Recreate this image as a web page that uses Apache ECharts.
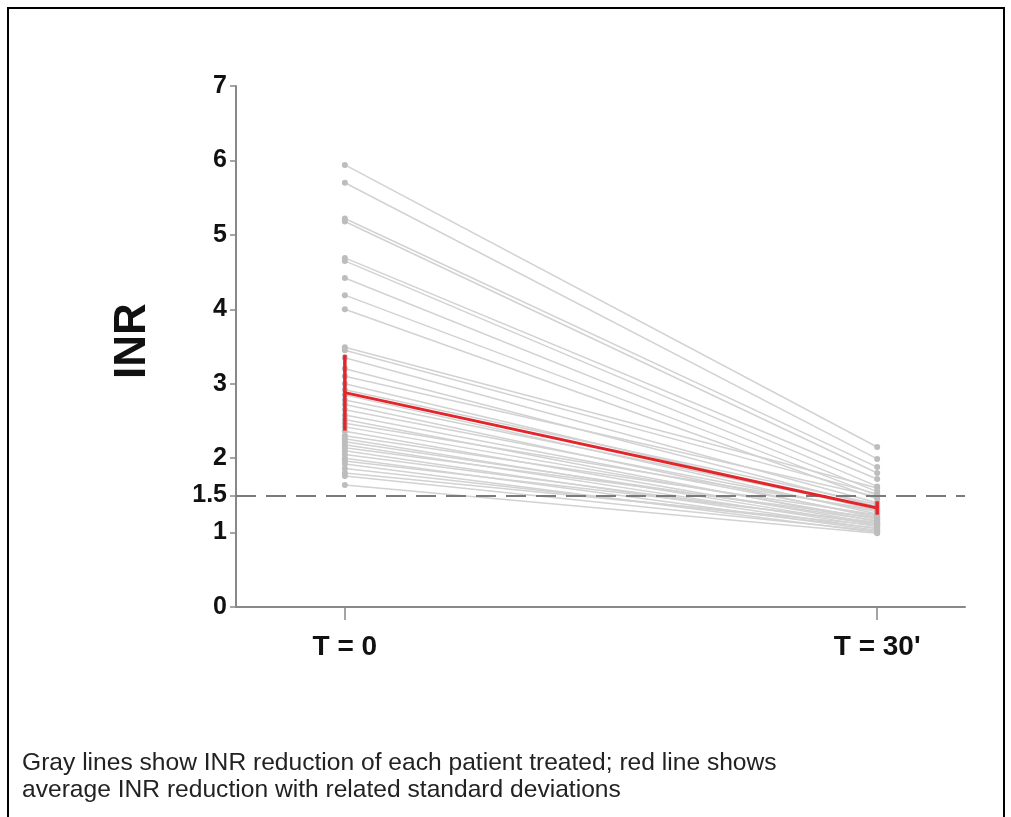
<!DOCTYPE html>
<html>
<head>
<meta charset="utf-8">
<script src="https://cdn.jsdelivr.net/npm/echarts@6/dist/echarts.min.js"></script>
<style>
html,body{margin:0;padding:0;background:#fff;}
#chart{width:1011px;height:817px;}
</style>
</head>
<body>
<div id="chart"></div>
<script>
// ---- data ----
var categories = ['T = 0', "T = 30'"];
var yTickValues = [0, 1, 1.5, 2, 3, 4, 5, 6, 7];
var inrT0 = [5.94, 5.70, 5.22, 5.18, 4.69, 4.65, 4.42, 4.19, 4.00, 3.49,
             3.45, 3.35, 3.20, 3.10, 3.00, 2.92, 2.85, 2.78, 2.72, 2.65,
             2.58, 2.52, 2.47, 2.42, 2.36, 2.30, 2.26, 2.22, 2.18, 2.14,
             2.10, 2.05, 2.00, 1.96, 1.92, 1.86, 1.80, 1.76, 1.64];
var inrT30 = [2.15, 1.99, 1.88, 1.80, 1.72, 1.62, 1.55, 1.50, 1.45, 1.60,
              1.52, 1.40, 1.35, 1.48, 1.30, 1.38, 1.25, 1.33, 1.20, 1.28,
              1.22, 1.15, 1.30, 1.18, 1.12, 1.24, 1.10, 1.16, 1.08, 1.20,
              1.05, 1.12, 1.03, 1.14, 1.00, 1.06, 1.10, 1.02, 0.99];
var meanINR = [2.88, 1.33];
var sdINR = [0.51, 0.09];
var thresholdINR = 1.5;
var captionLines = [
  'Gray lines show INR reduction of each patient treated; red line shows',
  'average INR reduction with related standard deviations'
];

// ---- chart ----
var chart = echarts.init(document.getElementById('chart'));
var FONT = '"Liberation Sans", Arial, sans-serif';

var series = [];
for (var i = 0; i < inrT0.length; i++) {
  series.push({
    type: 'line',
    data: [[0, inrT0[i]], [1, inrT30[i]]],
    symbol: 'circle',
    symbolSize: 6,
    silent: true,
    itemStyle: {color: '#bdbdbd'},
    lineStyle: {color: '#d2d2d2', width: 1.5},
    z: 2
  });
}
series.push({
  type: 'line',
  data: [[0, meanINR[0]], [1, meanINR[1]]],
  symbol: 'none',
  lineStyle: {color: '#e3262b', width: 3},
  z: 5,
  markLine: {
    silent: true,
    symbol: 'none',
    label: {show: false},
    lineStyle: {color: '#7a7a7a', type: [20, 10], width: 2},
    data: [{yAxis: thresholdINR}],
    z: 4
  }
});
series.push({
  type: 'custom',
  data: meanINR.map(function (m, k) { return [k, m - sdINR[k], m + sdINR[k]]; }),
  renderItem: function (params, api) {
    var p1 = api.coord([api.value(0), api.value(1)]);
    var p2 = api.coord([api.value(0), api.value(2)]);
    return {
      type: 'line',
      shape: {x1: p1[0], y1: p1[1], x2: p2[0], y2: p2[1]},
      style: {stroke: '#e3262b', lineWidth: 3.5}
    };
  },
  z: 6
});

chart.setOption({
  animation: false,
  backgroundColor: '#fff',
  grid: {left: 236, right: 46, top: 86, bottom: 210},
  xAxis: {
    type: 'value',
    min: -0.2045,
    max: 1.165,
    splitLine: {show: false},
    axisLine: {show: true, onZero: false, lineStyle: {color: '#888', width: 2}},
    axisTick: {show: true, customValues: [0, 1], length: 13, lineStyle: {color: '#888', width: 1.5}},
    axisLabel: {
      customValues: [0, 1],
      margin: 26,
      fontFamily: FONT,
      fontWeight: 'bold',
      fontSize: 28,
      color: '#111',
      formatter: function (v) { return categories[Math.round(v)]; }
    }
  },
  yAxis: {
    type: 'value',
    min: 0,
    max: 7,
    name: 'INR',
    nameLocation: 'middle',
    nameRotate: 90,
    nameGap: 81,
    nameTextStyle: {fontFamily: FONT, fontWeight: 'bold', fontSize: 44, color: '#111', padding: [0, 0, 0, 11]},
    splitLine: {show: false},
    axisLine: {show: true, onZero: false, lineStyle: {color: '#888', width: 2}},
    axisTick: {show: true, customValues: yTickValues, length: 6, lineStyle: {color: '#888', width: 1.5}},
    axisLabel: {
      customValues: yTickValues,
      margin: 9,
      fontFamily: FONT,
      fontWeight: 'bold',
      fontSize: 25,
      color: '#111'
    }
  },
  graphic: [
    {type: 'rect', shape: {x: 8, y: 8, width: 996, height: 830}, style: {fill: 'none', stroke: '#000', lineWidth: 2}, silent: true, z: -10},
    {type: 'text', left: 22, top: 750, style: {text: captionLines.join('\n'), font: '24.6px ' + FONT, fill: '#222', lineHeight: 27}, silent: true}
  ],
  series: series
});
</script>
</body>
</html>
